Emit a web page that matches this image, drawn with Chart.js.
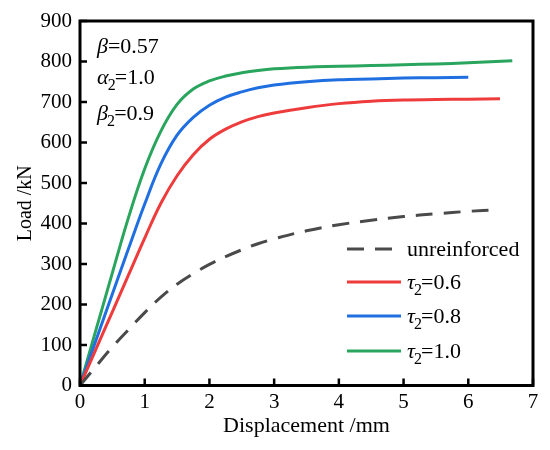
<!DOCTYPE html>
<html lang="en">
<head>
    <meta charset="UTF-8">
    <title>Load - Displacement</title>
    <script src="https://cdn.jsdelivr.net/npm/chart.js"></script>
    <style>
        html, body { margin: 0; padding: 0; background: #fff; }
        .chart-wrap { width: 550px; height: 450px; }
    </style>
</head>
<body>
    <div class="chart-wrap"><canvas id="loadChart"></canvas></div>
    <script>
        // curves: displacement (mm) vs load (kN)
        const dispUnreinf = [0, 0.25, 0.5, 0.75, 1.0, 1.25, 1.5, 1.75, 2.0, 2.25, 2.5, 2.75, 3.0, 3.5, 4.0, 4.5, 5.0, 5.5, 6.0, 6.45];
        const loadUnreinf = [0, 48, 95, 138, 180, 218, 250, 276, 299, 318, 335, 350, 362, 382, 397, 408, 417, 424, 430, 434];

        const dispTau06 = [0, 0.25, 0.5, 0.75, 1.0, 1.25, 1.5, 1.75, 2.0, 2.25, 2.5, 2.75, 3.0, 3.5, 4.0, 4.5, 5.0, 5.5, 6.0, 6.49];
        const loadTau06 = [0, 91, 182, 273, 364, 450, 518, 570, 608, 633, 651, 664, 673, 686, 696, 702, 705, 706, 707, 708];

        const dispTau08 = [0, 0.25, 0.5, 0.75, 1.0, 1.25, 1.5, 1.75, 2.0, 2.25, 2.5, 2.75, 3.0, 3.5, 4.0, 4.5, 5.0, 5.5, 6.0];
        const loadTau08 = [0, 113, 226, 338, 448, 547, 618, 662, 692, 712, 725, 735, 742, 750, 755, 757, 759, 760, 761];

        const dispTau10 = [0, 0.25, 0.5, 0.75, 1.0, 1.25, 1.5, 1.75, 2.0, 2.25, 2.5, 2.75, 3.0, 3.5, 4.0, 4.5, 5.0, 5.5, 6.0, 6.68];
        const loadTau10 = [0, 139, 278, 415, 535, 628, 694, 732, 752, 764, 772, 778, 782, 786, 788, 790, 792, 794, 797, 802];

        // "_" marks a subscript digit, greek letters are set in italic
        const seriesLabels = ['unreinforced', 'τ_2=0.6', 'τ_2=0.8', 'τ_2=1.0'];
        const noteLines = ['β=0.57', 'α_2=1.0', 'β_2=0.9'];

        const xTicks = [0, 1, 2, 3, 4, 5, 6, 7];
        const yTicks = [0, 100, 200, 300, 400, 500, 600, 700, 800, 900];

        const FONT = '"Liberation Serif", "Times New Roman", serif';

        function toPoints(xs, ys) {
            return xs.map((x, i) => ({ x: x, y: ys[i] }));
        }

        // text with italic greek letters and subscripts
        function drawRich(ctx, text, x, y, size) {
            let cx = x;
            let i = 0;
            while (i < text.length) {
                const ch = text[i];
                if (ch === '_') {
                    const sub = text[i + 1];
                    ctx.font = Math.round(size * 0.72) + 'px ' + FONT;
                    ctx.fillText(sub, cx - size * 0.04, y + size * 0.27);
                    cx += ctx.measureText(sub).width - size * 0.08;
                    i += 2;
                    continue;
                }
                if (/[\u0370-\u03ff]/.test(ch)) {
                    ctx.font = 'italic ' + size + 'px ' + FONT;
                    ctx.fillText(ch, cx, y);
                    cx += ctx.measureText(ch).width;
                    i++;
                    continue;
                }
                let run = '';
                while (i < text.length && text[i] !== '_' && !/[\u0370-\u03ff]/.test(text[i])) {
                    run += text[i];
                    i++;
                }
                ctx.font = size + 'px ' + FONT;
                ctx.fillText(run, cx, y);
                cx += ctx.measureText(run).width;
            }
        }

        const framePlugin = {
            id: 'framePlugin',
            afterDraw(chart) {
                const ctx = chart.ctx;
                const area = chart.chartArea;
                const xs = chart.scales.x;
                const ys = chart.scales.y;
                ctx.save();
                ctx.strokeStyle = '#000';
                ctx.fillStyle = '#000';

                // inward tick marks on left and bottom
                ctx.lineWidth = 2.5;
                xTicks.forEach(v => {
                    const px = xs.getPixelForValue(v);
                    ctx.beginPath();
                    ctx.moveTo(px, area.bottom);
                    ctx.lineTo(px, area.bottom - 7);
                    ctx.stroke();
                });
                yTicks.forEach(v => {
                    const py = ys.getPixelForValue(v);
                    ctx.beginPath();
                    ctx.moveTo(area.left, py);
                    ctx.lineTo(area.left + 7, py);
                    ctx.stroke();
                });

                // box
                ctx.lineWidth = 3;
                ctx.strokeRect(area.left, area.top, area.right - area.left, area.bottom - area.top);

                // parameters, top left
                ctx.textBaseline = 'alphabetic';
                ctx.textAlign = 'left';
                const noteY = [53, 84, 120];
                noteLines.forEach((t, i) => drawRich(ctx, t, area.left + 17, noteY[i], 22));

                // legend, bottom right
                const rowY = [249, 282, 316, 351];
                chart.data.datasets.forEach((ds, i) => {
                    const y = rowY[i];
                    ctx.beginPath();
                    ctx.lineWidth = ds.borderWidth;
                    ctx.strokeStyle = ds.borderColor;
                    ctx.setLineDash(ds.borderDash || []);
                    ctx.moveTo(347, y);
                    ctx.lineTo(401, y);
                    ctx.stroke();
                    ctx.setLineDash([]);
                    ctx.fillStyle = '#000';
                    drawRich(ctx, ds.label, 407, y + 7, 22);
                });
                ctx.restore();
            }
        };

        const ctx = document.getElementById('loadChart').getContext('2d');
        const loadChart = new Chart(ctx, {
            type: 'scatter',
            data: {
                datasets: [
                    {
                        label: seriesLabels[0],
                        data: toPoints(dispUnreinf, loadUnreinf),
                        borderColor: '#4a4a4a',
                        borderDash: [17, 11],
                        borderWidth: 3
                    },
                    {
                        label: seriesLabels[1],
                        data: toPoints(dispTau06, loadTau06),
                        borderColor: '#ee3b3b',
                        borderWidth: 3
                    },
                    {
                        label: seriesLabels[2],
                        data: toPoints(dispTau08, loadTau08),
                        borderColor: '#1f6fe0',
                        borderWidth: 3
                    },
                    {
                        label: seriesLabels[3],
                        data: toPoints(dispTau10, loadTau10),
                        borderColor: '#2aa55e',
                        borderWidth: 3
                    }
                ]
            },
            options: {
                responsive: true,
                maintainAspectRatio: false,
                animation: false,
                datasets: {
                    scatter: {
                        showLine: true,
                        pointRadius: 0,
                        tension: 0.4,
                        fill: false
                    }
                },
                layout: {
                    padding: { top: 21, right: 17, left: 0, bottom: 0 }
                },
                plugins: {
                    legend: { display: false },
                    tooltip: { enabled: false }
                },
                scales: {
                    x: {
                        type: 'linear',
                        min: 0,
                        max: 7,
                        afterBuildTicks: (scale) => { scale.ticks = xTicks.map(v => ({ value: v })); },
                        afterFit: (scale) => { scale.height = 64.5; },
                        ticks: {
                            color: '#000',
                            padding: 4,
                            maxRotation: 0,
                            font: { family: FONT, size: 21 }
                        },
                        grid: { display: false, drawTicks: false },
                        border: { display: false },
                        title: {
                            display: true,
                            text: 'Displacement /mm',
                            color: '#000',
                            padding: { top: 0, bottom: 11 },
                            font: { family: FONT, size: 22 }
                        }
                    },
                    y: {
                        type: 'linear',
                        min: 0,
                        max: 900,
                        afterBuildTicks: (scale) => { scale.ticks = yTicks.map(v => ({ value: v })); },
                        afterFit: (scale) => { scale.width = 80; },
                        ticks: {
                            color: '#000',
                            padding: 8,
                            font: { family: FONT, size: 21 }
                        },
                        grid: { display: false, drawTicks: false },
                        border: { display: false },
                        title: {
                            display: true,
                            text: 'Load /kN',
                            color: '#000',
                            padding: { top: 14, bottom: 0 },
                            font: { family: FONT, size: 20 }
                        }
                    }
                }
            },
            plugins: [framePlugin]
        });
    </script>
</body>
</html>
